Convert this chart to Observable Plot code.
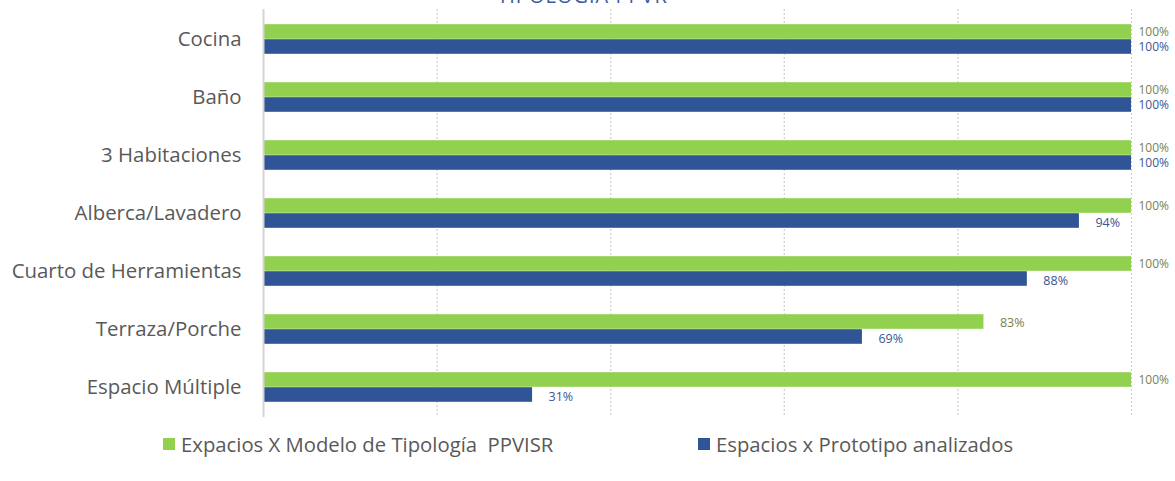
<!DOCTYPE html>
<html>
<head>
<meta charset="utf-8">
<script src="https://cdn.jsdelivr.net/npm/d3@7"></script>
<script src="https://cdn.jsdelivr.net/npm/@observablehq/plot@0.6"></script>
<style>
  html, body { margin: 0; padding: 0; background: #fff; overflow: hidden; }
  body { width: 1175px; height: 481px; position: relative; font-family: "Open Sans", sans-serif; }
  #title { position: absolute; z-index: 2; top: -18px; left: 0; width: 1165px; text-align: center; font-size: 20px; line-height: 27px; color: #3a5a9a; letter-spacing: 1px; }
  #chart { position: absolute; top: 0; left: 0; z-index: 1; }
  #legend { position: absolute; top: 430px; left: 0; width: 1175px; font-size: 20.3px; color: #595959; }
  .item { position: absolute; display: flex; align-items: center; white-space: pre; }
  .sw { width: 12px; height: 12px; margin-right: 6px; }
</style>
</head>
<body>
<div id="title">TIPOLOGÍA PPVR</div>
<div id="chart"></div>
<div id="legend"></div>
<script>
const categories = ["Cocina", "Baño", "3 Habitaciones", "Alberca/Lavadero", "Cuarto de Herramientas", "Terraza/Porche", "Espacio Múltiple"];
const modelo = [100, 100, 100, 100, 100, 83, 100];
const prototipo = [100, 100, 100, 94, 88, 69, 31];
const seriesNames = ["Expacios X Modelo de Tipología  PPVISR", "Espacios x Prototipo analizados"];
const seriesColors = ["#92d050", "#2f5597"];
const labelColors = ["#77834f", "#3b5591"];
const gridTicks = [0, 20, 40, 60, 80, 100];

const dModelo = categories.map((c, i) => ({cat: c, v: modelo[i]}));
const dProto = categories.map((c, i) => ({cat: c, v: prototipo[i]}));
const fmt = d => d.v + "%";

const chart = Plot.plot({
  width: 1175,
  height: 424,
  marginLeft: 263,
  marginRight: 44,
  marginTop: 9,
  marginBottom: 7,
  style: {fontFamily: "Open Sans, sans-serif", background: "transparent"},
  x: {domain: [0, 100], axis: null},
  y: {domain: categories, padding: 0, label: null},
  marks: [
    Plot.ruleX(gridTicks.filter(t => t > 0), {stroke: "#cfcfcf", strokeDasharray: "2,2", strokeWidth: 1.2}),
    Plot.barX(dModelo, {x: "v", y: "cat", fill: seriesColors[0], insetTop: 14.2, insetBottom: 29.2}),
    Plot.barX(dProto, {x: "v", y: "cat", fill: seriesColors[1], insetTop: 29.2, insetBottom: 14.2}),
    Plot.ruleX([0], {stroke: "#d4d4d4", strokeWidth: 2}),
    Plot.text(dModelo.filter(d => d.v === 100), {x: "v", y: "cat", text: fmt, dy: -7, dx: 7, textAnchor: "start", fill: labelColors[0], fontSize: 12}),
    Plot.text(dModelo.filter(d => d.v < 100), {x: "v", y: "cat", text: fmt, dy: -7, dx: 16, textAnchor: "start", fill: labelColors[0], fontSize: 12.5}),
    Plot.text(dProto.filter(d => d.v === 100), {x: "v", y: "cat", text: fmt, dy: 8, dx: 7, textAnchor: "start", fill: labelColors[1], fontSize: 12}),
    Plot.text(dProto.filter(d => d.v < 100), {x: "v", y: "cat", text: fmt, dy: 9, dx: 16, textAnchor: "start", fill: labelColors[1], fontSize: 12.5}),
    Plot.axisY({tickSize: 0, tickPadding: 22, fontSize: 20.4, fill: "#595959"})
  ]
});
document.getElementById("chart").appendChild(chart);

const legend = document.getElementById("legend");
const lefts = [163, 698];
seriesNames.forEach((name, i) => {
  const it = document.createElement("div");
  it.className = "item";
  it.style.left = lefts[i] + "px";
  const sw = document.createElement("span");
  sw.className = "sw";
  sw.style.background = seriesColors[i];
  const tx = document.createElement("span");
  tx.textContent = name;
  it.appendChild(sw);
  it.appendChild(tx);
  legend.appendChild(it);
});
</script>
</body>
</html>
